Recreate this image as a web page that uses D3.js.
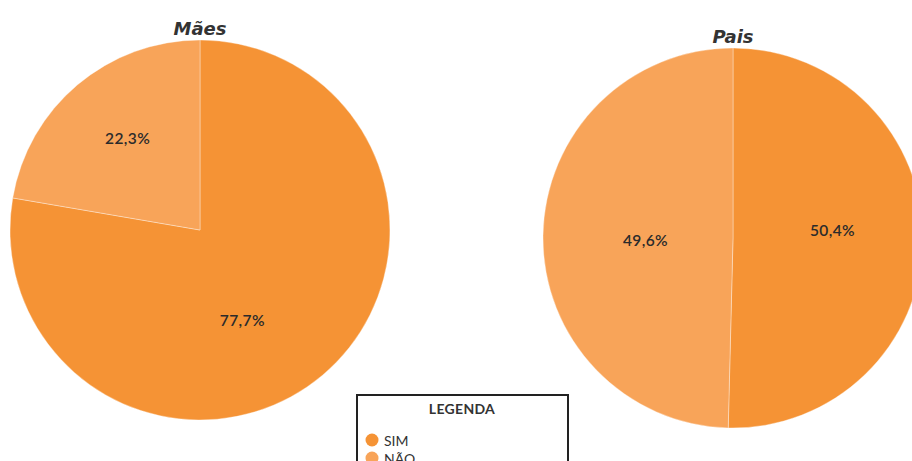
<!DOCTYPE html>
<html>
<head>
<meta charset="utf-8">
<script src="https://cdn.jsdelivr.net/npm/d3@7"></script>
<style>
  html, body { margin: 0; padding: 0; background: #fff; overflow: hidden; }
  svg { display: block; }
</style>
</head>
<body>
<svg id="chart" width="912" height="461"></svg>
<script>
// Respostas (percentual) por grupo
const categories = ["SIM", "NÃO"];
const maesValues = [77.7, 22.3];
const paisValues = [50.4, 49.6];
const chartTitles = ["Mães", "Pais"];
const legendTitle = "LEGENDA";

const colors = d3.scaleOrdinal().domain(categories).range(["#F59335", "#F8A459"]);
const fmt = v => d3.format(".1f")(v).replace(".", ",") + "%";

const svg = d3.select("#chart");
const radius = 190;

// layout of each pie, with small nudges for the value labels
const pies = [
  { title: chartTitles[0], values: maesValues, cx: 200, cy: 230, nudge: [[-25, 10], [-5, -12]] },
  { title: chartTitles[1], values: paisValues, cx: 733, cy: 238, nudge: [[-5, -9], [17, 3]] }
];

const pie = d3.pie().sort(null).value(d => d.value);
const arc = d3.arc().innerRadius(0).outerRadius(radius);
const labelArc = d3.arc().innerRadius(radius * 0.55).outerRadius(radius * 0.55);

pies.forEach(p => {
  const data = categories.map((c, i) => ({ category: c, value: p.values[i] }));
  const g = svg.append("g").attr("transform", `translate(${p.cx},${p.cy})`);

  g.selectAll("path")
    .data(pie(data))
    .join("path")
    .attr("d", arc)
    .attr("fill", d => colors(d.data.category))
    .attr("stroke", "rgba(255,255,255,0.35)")
    .attr("stroke-width", 1);

  g.selectAll("text.val")
    .data(pie(data))
    .join("text")
    .attr("class", "val")
    .attr("transform", (d, i) => {
      const [x, y] = labelArc.centroid(d);
      return `translate(${x + p.nudge[i][0]},${y + p.nudge[i][1]})`;
    })
    .attr("text-anchor", "middle")
    .attr("dominant-baseline", "central")
    .attr("font-family", "Lato, 'Noto Sans', sans-serif")
    .attr("font-weight", 600)
    .attr("font-size", 15.5)
    .attr("letter-spacing", 0.4)
    .attr("fill", "#2b2b2b")
    .text(d => fmt(d.data.value));

  svg.append("text")
    .attr("x", p.cx)
    .attr("y", p.cy - radius - 5)
    .attr("text-anchor", "middle")
    .attr("font-family", "'DejaVu Sans', sans-serif")
    .attr("font-weight", "bold")
    .attr("font-style", "italic")
    .attr("font-size", 18)
    .attr("fill", "#333")
    .text(p.title);
});

// Legenda
const lg = svg.append("g").attr("transform", "translate(357,395)");
lg.append("rect")
  .attr("width", 211).attr("height", 90)
  .attr("fill", "#fff").attr("stroke", "#222").attr("stroke-width", 2);
lg.append("text")
  .attr("x", 105).attr("y", 19)
  .attr("text-anchor", "middle")
  .attr("font-family", "Lato, 'Noto Sans', sans-serif")
  .attr("font-weight", "bold")
  .attr("font-size", 14)
  .attr("letter-spacing", 0.3)
  .attr("fill", "#333")
  .text(legendTitle);
const items = lg.selectAll("g.item")
  .data(categories)
  .join("g")
  .attr("class", "item")
  .attr("transform", (d, i) => `translate(15,${45 + i * 18})`);
items.append("circle").attr("r", 6.5).attr("fill", d => colors(d));
items.append("text")
  .attr("x", 12)
  .attr("dominant-baseline", "central")
  .attr("font-family", "Lato, 'Noto Sans', sans-serif")
  .attr("font-size", 14)
  .attr("fill", "#333")
  .text(d => d);
</script>
</body>
</html>
